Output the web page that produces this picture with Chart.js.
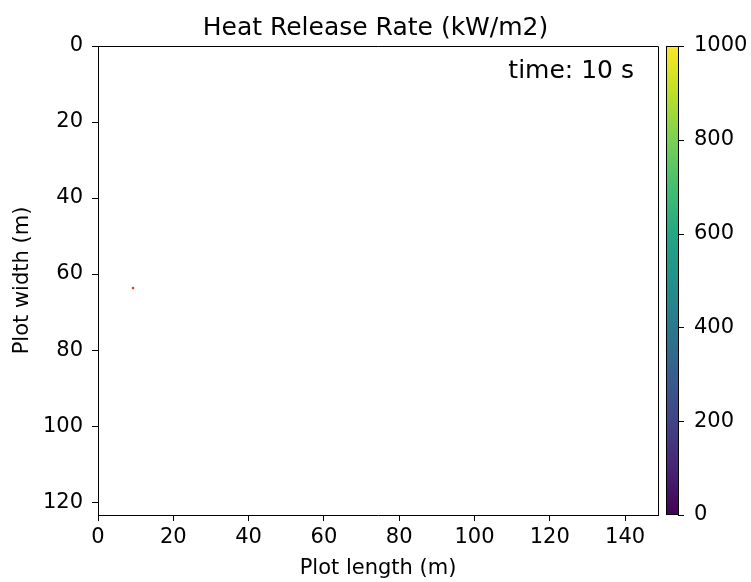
<!DOCTYPE html>
<html>
<head>
<meta charset="utf-8">
<script src="https://cdn.jsdelivr.net/npm/chart.js@4"></script>
<style>
  body { margin: 0; background: #fff; }
</style>
</head>
<body>
<canvas id="hrrChart" width="751" height="582"></canvas>
<script>
// extent of the plot (m)
const plotLength = 148.75;
const plotWidth = 123.4;
const xTickVals = [0, 20, 40, 60, 80, 100, 120, 140];
const yTickVals = [0, 20, 40, 60, 80, 100, 120];

// burning cells at t = 10 s
const fireX = [9.3];
const fireY = [63.7];

// colour bar (kW/m2)
const hrrMin = 0;
const hrrMax = 1000;
const cbTickVals = [0, 200, 400, 600, 800, 1000];
const timeLabel = 'time: 10 s';

const viridis = ['#440154', '#482475', '#414487', '#355f8d', '#2a788e', '#21918c',
                 '#22a884', '#44bf70', '#7ad151', '#bddf26', '#fde725'];

const FONT = "'DejaVu Sans', sans-serif";

const frameAndColorbar = {
    id: 'frameAndColorbar',
    afterDraw(chart) {
        const ctx = chart.ctx;
        const area = chart.chartArea;
        ctx.save();
        // top and right edges of the axes frame
        ctx.strokeStyle = '#000';
        ctx.lineWidth = 1;
        ctx.beginPath();
        ctx.moveTo(area.left, area.top + 0.5);
        ctx.lineTo(area.right + 0.5, area.top + 0.5);
        ctx.lineTo(area.right + 0.5, area.bottom);
        ctx.stroke();

        // colour bar
        const cb = chart.scales.cb;
        const x0 = 666, x1 = 678;
        const grad = ctx.createLinearGradient(0, cb.bottom, 0, cb.top);
        viridis.forEach((c, i) => grad.addColorStop(i / (viridis.length - 1), c));
        ctx.fillStyle = grad;
        ctx.fillRect(x0, cb.top, x1 - x0, cb.bottom - cb.top);
        ctx.strokeRect(x0 + 0.5, cb.top + 0.5, x1 - x0, cb.bottom - cb.top - 1);
        ctx.beginPath();
        cbTickVals.forEach(v => {
            const y = Math.round(cb.getPixelForValue(v)) + 0.5;
            ctx.moveTo(x1, y);
            ctx.lineTo(x1 + 6, y);
        });
        ctx.stroke();

        // time stamp
        ctx.fillStyle = '#000';
        ctx.font = '25px ' + FONT;
        ctx.textAlign = 'right';
        ctx.textBaseline = 'middle';
        ctx.fillText(timeLabel, 634, 71);
        ctx.restore();
    }
};

const ctx = document.getElementById('hrrChart').getContext('2d');
new Chart(ctx, {
    type: 'scatter',
    data: {
        datasets: [{
            label: 'HRR',
            data: fireX.map((x, i) => ({x: x, y: fireY[i]})),
            backgroundColor: '#e0402a',
            borderWidth: 0,
            pointRadius: 1.3,
            yAxisID: 'y'
        }]
    },
    options: {
        responsive: false,
        animation: false,
        layout: { padding: 0 },
        plugins: {
            legend: { display: false },
            tooltip: { enabled: false },
            title: {
                display: true,
                text: 'Heat Release Rate (kW/m2)',
                color: '#000',
                font: { family: FONT, size: 25, weight: 'normal', lineHeight: 1.2 },
                padding: { top: 13, bottom: 3 }
            }
        },
        scales: {
            x: {
                type: 'linear',
                position: 'bottom',
                min: 0,
                max: plotLength,
                afterBuildTicks: s => { s.ticks = xTickVals.map(v => ({value: v})); },
                afterFit: s => { s.height = 67; },
                grid: { drawOnChartArea: false, tickLength: 6, color: '#000' },
                border: { color: '#000', width: 1 },
                ticks: { color: '#000', padding: 4, maxRotation: 0, font: { family: FONT, size: 21 } },
                title: {
                    display: true,
                    text: 'Plot length (m)',
                    color: '#000',
                    font: { family: FONT, size: 21 },
                    padding: { top: 0, bottom: 1 }
                }
            },
            y: {
                type: 'linear',
                position: 'left',
                reverse: true,
                min: 0,
                max: plotWidth,
                afterBuildTicks: s => { s.ticks = yTickVals.map(v => ({value: v})); },
                afterFit: s => { s.width = 98; },
                grid: { drawOnChartArea: false, tickLength: 6, color: '#000' },
                border: { color: '#000', width: 1 },
                ticks: { color: '#000', padding: 9, font: { family: FONT, size: 21 } },
                title: {
                    display: true,
                    text: 'Plot width (m)',
                    color: '#000',
                    font: { family: FONT, size: 21 },
                    padding: { top: 10, bottom: 0 }
                }
            },
            cb: {
                type: 'linear',
                position: 'right',
                min: hrrMin,
                max: hrrMax,
                afterBuildTicks: s => { s.ticks = cbTickVals.map(v => ({value: v})); },
                afterFit: s => { s.width = 93; },
                grid: { display: false },
                border: { display: false },
                ticks: {
                    color: '#000',
                    padding: 28,
                    font: { family: FONT, size: 21 },
                    callback: v => String(v)
                }
            }
        }
    },
    plugins: [frameAndColorbar]
});
</script>
</body>
</html>
